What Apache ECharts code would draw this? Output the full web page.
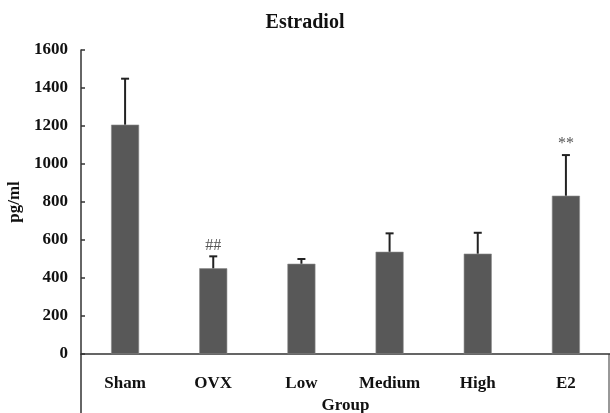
<!DOCTYPE html>
<html>
<head>
<meta charset="utf-8">
<script src="https://cdn.jsdelivr.net/npm/echarts@6/dist/echarts.min.js"></script>
<style>
  html, body { margin: 0; padding: 0; background: #fff; }
  #chart { width: 610px; height: 413px; }
</style>
</head>
<body>
<div id="chart"></div>
<script>
var groups = ['Sham', 'OVX', 'Low', 'Medium', 'High', 'E2'];
var means = [1207, 451, 475, 538, 528, 833];
var errors = [242, 63, 25, 97, 110, 214];
var marks = ['', '##', '', '', '', '**'];
var yTicks = { min: 0, max: 1600, interval: 200 };

var FONT = "'Liberation Serif', 'Times New Roman', serif";
var GRID = { left: 81, right: 0, top: 50, bottom: 59, containLabel: false, outerBoundsMode: 'none' };

var chart = echarts.init(document.getElementById('chart'));

var errData = groups.map(function (g, i) {
    return [i, means[i], means[i] + errors[i], marks[i]];
});

var option = {
    animation: false,
    title: {
        text: 'Estradiol',
        left: 'center',
        top: 8,
        textStyle: { fontFamily: FONT, fontSize: 20, fontWeight: 'bold', color: '#111' }
    },
    grid: GRID,
    xAxis: {
        type: 'category',
        data: groups,
        name: 'Group',
        nameLocation: 'middle',
        nameGap: 43,
        nameTextStyle: { fontFamily: FONT, fontSize: 17, fontWeight: 'bold', color: '#111' },
        axisLine: { show: true, lineStyle: { color: '#333', width: 1.5 } },
        axisTick: { show: false },
        axisLabel: { fontFamily: FONT, fontSize: 17, fontWeight: 'bold', color: '#111', margin: 21 }
    },
    yAxis: {
        type: 'value',
        min: yTicks.min,
        max: yTicks.max,
        interval: yTicks.interval,
        name: 'pg/ml',
        nameLocation: 'middle',
        nameGap: 52,
        nameRotate: 90,
        nameTextStyle: { fontFamily: FONT, fontSize: 17, fontWeight: 'bold', color: '#111' },
        axisLine: { show: true, lineStyle: { color: '#333', width: 1.5 } },
        axisTick: { show: true, inside: true, length: 4, lineStyle: { color: '#333', width: 1.5 } },
        axisLabel: {
            fontFamily: FONT, fontSize: 17, fontWeight: 'bold', color: '#111', margin: 13,
            formatter: function (v) { return String(v); }
        },
        splitLine: { show: false }
    },
    series: [{
        type: 'bar',
        data: means,
        barWidth: 28,
        itemStyle: { color: '#585858', borderColor: '#8a8a8a', borderWidth: 0.6 }
    }, {
        type: 'custom',
        data: errData,
        z: 5,
        renderItem: function (params, api) {
            var base = api.coord([api.value(0), api.value(1)]);
            var top = api.coord([api.value(0), api.value(2)]);
            var cap = 4;
            var style = { stroke: '#222', lineWidth: 2 };
            var children = [
                { type: 'line', shape: { x1: base[0], y1: base[1], x2: top[0], y2: top[1] }, style: style },
                { type: 'line', shape: { x1: top[0] - cap, y1: top[1], x2: top[0] + cap, y2: top[1] }, style: style }
            ];
            var mk = marks[params.dataIndex];
            if (mk) {
                children.push({
                    type: 'text',
                    style: {
                        text: mk, x: top[0], y: top[1] - 3,
                        align: 'center', verticalAlign: 'bottom',
                        font: '16px ' + FONT, fill: '#555'
                    }
                });
            }
            return { type: 'group', children: children };
        }
    }],
    graphic: [{
        // frame continues below the zero line
        type: 'line',
        shape: { x1: GRID.left, y1: 413 - GRID.bottom, x2: GRID.left, y2: 413 },
        style: { stroke: '#333', lineWidth: 1.5 }
    }, {
        type: 'line',
        shape: { x1: 609, y1: 413 - GRID.bottom, x2: 609, y2: 413 },
        style: { stroke: '#333', lineWidth: 1 }
    }]
};

chart.setOption(option);
</script>
</body>
</html>
